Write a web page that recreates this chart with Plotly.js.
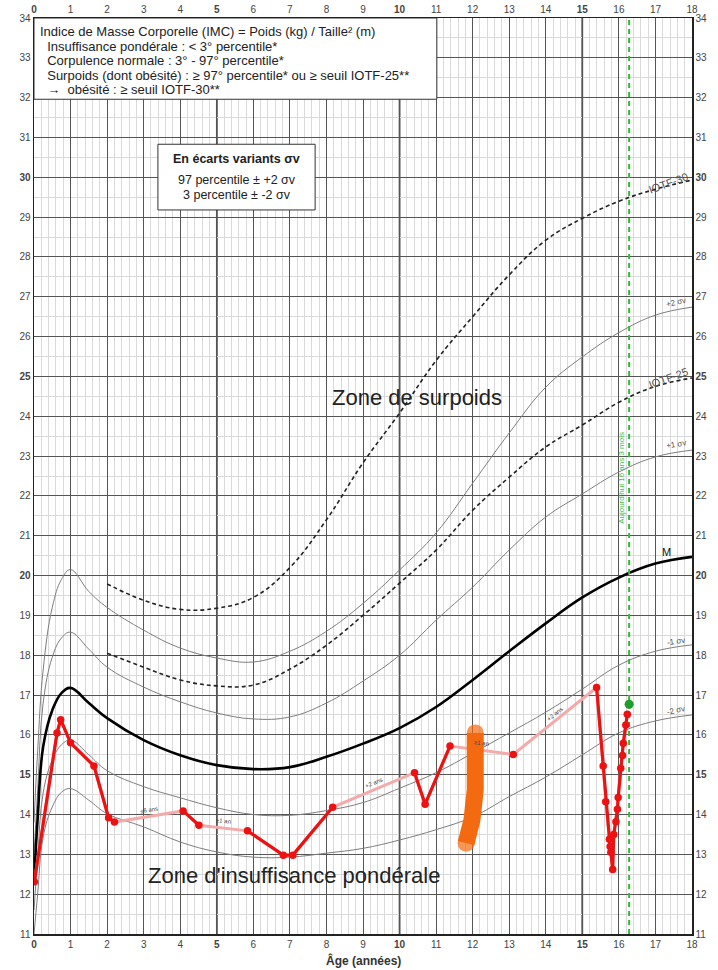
<!DOCTYPE html>
<html><head><meta charset="utf-8">
<script src="https://cdn.plot.ly/plotly-3.0.1.min.js"></script>
<style>html,body{margin:0;padding:0;background:#fff}#chart{width:718px;height:970px}</style>
</head><body><div id="chart"></div>
<script>
// ---- reference curves (age in years, BMI kg/m2) ----
const refAges = [0, 0.1, 0.25, 0.5, 0.75, 1, 1.5, 2, 3, 4, 5, 6, 7, 8, 9, 10, 11, 12, 13, 14, 15, 16, 17, 18];
const curveM      = [12.3, 13.9, 15.7, 16.62, 17.05, 17.18, 16.8, 16.42, 15.87, 15.49, 15.24, 15.14, 15.19, 15.45, 15.78, 16.17, 16.7, 17.38, 18.1, 18.8, 19.45, 19.95, 20.3, 20.47];
const curveMinus1 = [11.6, 12.9, 14.54, 15.37, 15.75, 15.87, 15.5, 15.1, 14.7, 14.42, 14.17, 14.0, 13.98, 14.1, 14.3, 14.66, 15.05, 15.54, 16.05, 16.57, 17.15, 17.75, 18.1, 18.26];
const curveMinus2 = [11.0, 12.0, 13.44, 14.19, 14.56, 14.65, 14.36, 14.02, 13.69, 13.31, 13.06, 12.93, 12.93, 13.03, 13.15, 13.36, 13.62, 13.94, 14.45, 14.94, 15.5, 16.05, 16.35, 16.5];
const curvePlus1  = [13.0, 14.6, 16.8, 17.95, 18.43, 18.58, 18.15, 17.7, 17.2, 16.83, 16.55, 16.4, 16.45, 16.8, 17.35, 18.0, 18.88, 19.71, 20.64, 21.47, 22.05, 22.6, 22.98, 23.15];
const curvePlus2  = [13.8, 15.6, 17.63, 19.2, 19.9, 20.15, 19.6, 19.2, 18.63, 18.18, 17.93, 17.83, 18.1, 18.6, 19.3, 20.14, 21.07, 22.32, 23.58, 24.73, 25.49, 26.1, 26.54, 26.74];
const iotfAges = [2, 3, 4, 5, 6, 7, 8, 9, 10, 11, 12, 13, 14, 15, 16, 17, 18];
const iotf30 = [19.79, 19.38, 19.15, 19.18, 19.45, 20.2, 21.4, 22.83, 24.08, 25.4, 26.5, 27.55, 28.42, 28.97, 29.4, 29.7, 29.93];
const iotf25 = [18.05, 17.7, 17.38, 17.23, 17.25, 17.65, 18.25, 19.0, 19.81, 20.64, 21.64, 22.47, 23.23, 23.78, 24.35, 24.75, 24.96];

// ---- patient measurements ----
const patientAge = [0.01, 0.63, 0.73, 1.0, 1.64, 2.04, 2.2, 4.08, 4.51, 5.84, 6.82, 7.08, 8.17, 10.41, 10.7, 11.38, 13.11, 15.39, 15.57, 15.64, 15.74, 15.76, 15.78, 15.83, 15.86, 15.92, 15.96, 15.98, 16.05, 16.1, 16.12, 16.19, 16.23];
const patientBmi = [12.31, 16.05, 16.38, 15.8, 15.22, 13.92, 13.81, 14.09, 13.73, 13.59, 12.98, 12.98, 14.18, 15.05, 14.26, 15.72, 15.51, 17.19, 15.22, 14.32, 13.38, 13.2, 13.05, 12.62, 13.5, 13.82, 14.13, 14.43, 15.16, 15.48, 15.79, 16.25, 16.52];
const gapAfterIndex = [6, 8, 12, 15, 16];
const gapLabels = ["±6 ans", "±1 an", "+2 ans", "±1 an", "+2 ans"];
const todayAge = 16.28;
const todayBmi = 16.77;
const todayText = "Aujourd'hui 16 ans 3 mois";

// ---- hand-drawn orange mark ----
const markAge = [12.07, 12.1, 12.07, 11.98, 11.87, 11.82];
const markBmi = [16.05, 15.45, 14.62, 13.86, 13.5, 13.28];

// ---- ticks / labels ----
const xTickVals = [0,1,2,3,4,5,6,7,8,9,10,11,12,13,14,15,16,17,18];
const xBold = [0, 5, 10, 15];
const yTickVals = [11,12,13,14,15,16,17,18,19,20,21,22,23,24,25,26,27,28,29,30,31,32,33,34];
const yBold = [15, 20, 25, 30];
const strongAges = [5, 10, 15];

const legendLines = [
  "Indice de Masse Corporelle (IMC) = Poids (kg) / Taille² (m)",
  "  Insuffisance pondérale : < 3° percentile*",
  "  Corpulence normale : 3° - 97° percentile*",
  "  Surpoids (dont obésité) : ≥ 97° percentile* ou ≥ seuil IOTF-25**",
  "  →  obésité : ≥ seuil IOTF-30**"
];
const sigmaLines = ["<b>En écarts variants σv</b>", "97 percentile ± +2 σv", "3 percentile ± -2 σv"];

const curveLabels = [
  {x: 17.35, y: 29.85, text: "IOTF-30", a: -20, s: 11},
  {x: 17.55, y: 26.85, text: "+2 σv", a: -12, s: 8},
  {x: 17.35, y: 24.95, text: "IOTF-25", a: -20, s: 11},
  {x: 17.55, y: 23.3, text: "+1 σv", a: -10, s: 8},
  {x: 17.3, y: 20.6, text: "M", a: 0, s: 11},
  {x: 17.55, y: 18.35, text: "-1 σv", a: -8, s: 8},
  {x: 17.55, y: 16.6, text: "-2 σv", a: -12, s: 8}
];

const font = "Liberation Sans, Arial, sans-serif";
const traces = [];
const spl = {shape: 'spline', smoothing: 1.15};
function ref(x, y, color, width, dash) {
  traces.push({x, y, mode: 'lines', hoverinfo: 'skip', showlegend: false,
    line: Object.assign({color, width, dash: dash || 'solid'}, spl)});
}
ref(refAges, curvePlus2, '#7e7e7e', 1);
ref(refAges, curvePlus1, '#7e7e7e', 1);
ref(refAges, curveMinus1, '#7e7e7e', 1);
ref(refAges, curveMinus2, '#7e7e7e', 1);
ref(iotfAges, iotf30, '#222', 1.6, '4px,3px');
ref(iotfAges, iotf25, '#222', 1.6, '4px,3px');
ref(refAges, curveM, '#000', 2.6);

// today line
traces.push({x: [todayAge, todayAge], y: [11, 34], mode: 'lines', showlegend: false, hoverinfo: 'skip',
  line: {color: '#33bb33', width: 2, dash: '5px,4px'}});

// patient pink (all), red (with gaps)
traces.push({x: patientAge, y: patientBmi, mode: 'lines', showlegend: false,
  line: {color: '#f5aaaa', width: 3}});
const redX = [], redY = [];
patientAge.forEach((a, i) => {
  redX.push(a); redY.push(patientBmi[i]);
  if (gapAfterIndex.includes(i)) { redX.push(null); redY.push(null); }
});
traces.push({x: redX, y: redY, mode: 'lines', showlegend: false, connectgaps: false,
  line: {color: '#ee1111', width: 3.2}});
traces.push({x: patientAge, y: patientBmi, mode: 'markers', showlegend: false,
  marker: {color: '#ee1111', size: 7.5, line: {width: 0}}});
traces.push({x: [todayAge], y: [todayBmi], mode: 'markers', showlegend: false,
  marker: {color: '#1e9e2a', size: 9, line: {width: 0}}});

// orange mark
traces.push({x: markAge, y: markBmi, mode: 'lines+markers', showlegend: false, hoverinfo: 'skip',
  line: {color: '#f36a10', width: 17},
  marker: {color: '#f36a10', line: {width: 0}, size: markAge.map((v, i) => (i === 0 || i === markAge.length - 1) ? 17 : 0)}});

// invisible trace for secondary axes
traces.push({x: [0], y: [11], xaxis: 'x2', yaxis: 'y2', mode: 'markers', marker: {opacity: 0}, showlegend: false, hoverinfo: 'skip'});

const xText = xTickVals.map(v => xBold.includes(v) ? '<b>' + v + '</b>' : String(v));
const yText = yTickVals.map(v => yBold.includes(v) ? '<b>' + v + '</b>' : String(v));

const baseX = {range: [0, 18], tickvals: xTickVals, ticktext: xText, showgrid: true, gridcolor: '#555', gridwidth: 1,
  zeroline: false, ticks: '', tickfont: {family: font, size: 10, color: '#444'},
  minor: {dtick: 0.2, showgrid: true, gridcolor: '#dadada', gridwidth: 1},
  showline: true, linecolor: '#222', linewidth: 1.5, mirror: true};
const baseY = {range: [11, 34], tickvals: yTickVals, ticktext: yText, showgrid: true, gridcolor: '#555', gridwidth: 1,
  zeroline: false, ticks: '', tickfont: {family: font, size: 10, color: '#444'},
  minor: {dtick: 0.5, showgrid: true, gridcolor: '#dadada', gridwidth: 1},
  showline: true, linecolor: '#222', linewidth: 1.5, mirror: true};

const shapes = [];
strongAges.forEach(a => shapes.push({type: 'line', xref: 'x', yref: 'paper', x0: a, x1: a, y0: 0, y1: 1,
  line: {color: '#111', width: 1.6}, layer: 'below'}));
shapes.push({type: 'rect', xref: 'x', yref: 'y', x0: 0, x1: 11.02, y0: 31.96, y1: 34,
  fillcolor: '#fff', line: {color: '#333', width: 1}, layer: 'above'});
shapes.push({type: 'rect', xref: 'x', yref: 'y', x0: 3.39, x1: 7.69, y0: 29.18, y1: 30.83,
  fillcolor: '#fff', line: {color: '#333', width: 1}, layer: 'above'});

const annotations = [];
legendLines.forEach((t, i) => annotations.push({xref: 'paper', yref: 'y', x: 0.006, y: 33.66 - i * 0.365,
  text: t.replace(/^  /, '&nbsp;&nbsp;'), showarrow: false, xanchor: 'left', yanchor: 'middle',
  font: {family: font, size: 13, color: '#222'}}));
sigmaLines.forEach((t, i) => annotations.push({xref: 'x', yref: 'y', x: 5.54, y: [30.47, 29.92, 29.55][i],
  text: t, showarrow: false, xanchor: 'center', yanchor: 'middle', font: {family: font, size: 12.5, color: '#222'}}));
annotations.push({xref: 'x', yref: 'y', x: 10.48, y: 24.48, text: 'Zone de surpoids', showarrow: false,
  font: {family: font, size: 22, color: '#222'}});
annotations.push({xref: 'x', yref: 'y', x: 7.1, y: 12.48, text: "Zone d'insuffisance pondérale", showarrow: false,
  font: {family: font, size: 22, color: '#222'}});
curveLabels.forEach(c => annotations.push({xref: 'x', yref: 'y', x: c.x, y: c.y, text: c.text, textangle: c.a,
  showarrow: false, font: {family: font, size: c.s, color: c.text === 'M' ? '#111' : '#555'}}));
annotations.push({xref: 'x', yref: 'y', x: 16.08, y: 22.45, text: todayText, textangle: -90, showarrow: false,
  font: {family: font, size: 8, color: '#3cbf3c'}});
// gap labels along pink segments
const pxPerYear = 658 / 18, pxPerBmi = 916 / 23;
gapAfterIndex.forEach((i, k) => {
  const a0 = patientAge[i], a1 = patientAge[i + 1], b0 = patientBmi[i], b1 = patientBmi[i + 1];
  const ang = -Math.atan2((b1 - b0) * pxPerBmi, (a1 - a0) * pxPerYear) * 180 / Math.PI;
  annotations.push({xref: 'x', yref: 'y', x: (a0 + a1) / 2, y: (b0 + b1) / 2 + 0.17, text: gapLabels[k],
    textangle: ang, showarrow: false, font: {family: font, size: 6, color: '#444'}});
});
annotations.push({xref: 'paper', yref: 'paper', x: 0.5, y: -0.0285, yanchor: 'middle', text: '<b>Âge (années)</b>',
  showarrow: false, font: {family: font, size: 12, color: '#333'}});

const layout = {
  width: 718, height: 970,
  margin: {l: 34, r: 26, t: 18, b: 36},
  paper_bgcolor: '#fff', plot_bgcolor: '#fff',
  showlegend: false,
  xaxis: Object.assign({}, baseX, {side: 'bottom'}),
  xaxis2: Object.assign({}, baseX, {side: 'top', overlaying: 'x', showgrid: false, minor: {showgrid: false}}),
  yaxis: Object.assign({}, baseY, {side: 'left'}),
  yaxis2: Object.assign({}, baseY, {side: 'right', overlaying: 'y', showgrid: false, minor: {showgrid: false}}),
  shapes, annotations
};
Plotly.newPlot('chart', traces, layout, {staticPlot: true});
</script></body></html>
